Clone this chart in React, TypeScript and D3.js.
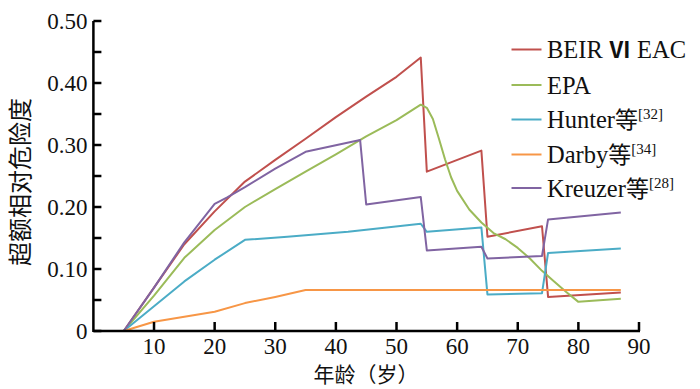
import React from "react";
import * as d3 from "d3";

const xTicks = [10, 20, 30, 40, 50, 60, 70, 80, 90];
const yTicks = [0, 0.1, 0.2, 0.3, 0.4, 0.5];
const yTickLabels = ["0", "0.10", "0.20", "0.30", "0.40", "0.50"];
const yMinorTicks = [0.05, 0.15, 0.25, 0.35, 0.45];

const beir: [number, number][] = [
  [5, 0], [10, 0.07], [15, 0.14], [20, 0.193], [25, 0.241], [30, 0.276], [35, 0.31],
  [40, 0.345], [45, 0.378], [50, 0.41], [54, 0.441], [55, 0.257], [64, 0.291],
  [65, 0.152], [74, 0.169], [75, 0.055], [87, 0.062],
];
const epa: [number, number][] = [
  [5, 0], [10, 0.057], [15, 0.118], [20, 0.163], [25, 0.2], [30, 0.229], [35, 0.257],
  [40, 0.285], [45, 0.314], [50, 0.34], [54, 0.365], [55, 0.36], [56, 0.342],
  [57, 0.31], [58, 0.277], [59, 0.248], [60, 0.226], [62, 0.196], [64, 0.175],
  [66, 0.158], [68, 0.148], [70, 0.134], [72, 0.117], [74, 0.097], [76, 0.08],
  [78, 0.063], [80, 0.047], [87, 0.052],
];
const hunter: [number, number][] = [
  [5, 0], [10, 0.04], [15, 0.08], [20, 0.115], [25, 0.147], [32, 0.152], [42, 0.16],
  [54, 0.173], [55, 0.16], [64, 0.167], [65, 0.059], [74, 0.061], [75, 0.126], [87, 0.133],
];
const darby: [number, number][] = [
  [5, 0], [10, 0.015], [20, 0.031], [25, 0.045], [30, 0.055], [35, 0.066], [87, 0.066],
];
const kreuzer: [number, number][] = [
  [5, 0], [10, 0.07], [15, 0.143], [20, 0.205], [22, 0.215], [25, 0.232], [30, 0.262],
  [35, 0.289], [44, 0.308], [45, 0.204], [54, 0.216], [55, 0.13], [64, 0.136],
  [65, 0.117], [74, 0.121], [75, 0.18], [87, 0.191],
];

const seriesNames = ["BEIR", "EPA", "Hunter", "Darby", "Kreuzer"];
const seriesData = [beir, epa, hunter, darby, kreuzer];
const seriesColors = ["#c0504d", "#9bbb59", "#4bacc6", "#f79646", "#8064a2"];
const legendSup = ["", "", "[32]", "[34]", "[28]"];

const serif = "Liberation Serif, Times New Roman, Times, DejaVu Serif, serif";
const cjk = "Noto Sans CJK SC, sans-serif";

export default function App() {
  const width = 700;
  const height = 389;
  const x = d3.scaleLinear().domain([0, 90]).range([93.4, 639]);
  const y = d3.scaleLinear().domain([0, 0.5]).range([331, 21]);
  const line = d3
    .line<[number, number]>()
    .x((d) => x(d[0]))
    .y((d) => y(d[1]));

  const legendY = [49.5, 85, 119.5, 154.5, 188];
  const serifStyle = { fontFamily: serif };
  const cjkStyle = { fontFamily: cjk };

  const legendLabel = (i: number) => {
    if (i === 0)
      return (
        <>
          <tspan>BEIR </tspan>
          <tspan style={cjkStyle} fontSize={22} fontWeight="bold">Ⅵ</tspan>
          <tspan> EAC</tspan>
        </>
      );
    if (i === 1) return <tspan>EPA</tspan>;
    return (
      <>
        <tspan>{seriesNames[i]}</tspan>
        <tspan style={cjkStyle} fontSize={23}>等</tspan>
        <tspan fontSize={15} dy={-9}>{legendSup[i]}</tspan>
      </>
    );
  };

  return (
    <svg
      width={width}
      height={height}
      style={{ position: "absolute", left: 0, top: 0, background: "#fff" }}
    >
      <rect width={width} height={height} fill="#fff" />
      {seriesData.map((d, i) => (
        <path
          key={seriesNames[i]}
          d={line(d) || ""}
          fill="none"
          stroke={seriesColors[i]}
          strokeWidth={2}
          strokeLinejoin="round"
        />
      ))}
      <g stroke="#000" strokeWidth={2.5} fill="none">
        <line x1={x(0)} x2={x(90) + 1} y1={y(0)} y2={y(0)} />
        <line x1={x(0)} x2={x(0)} y1={y(0) + 1} y2={y(0.5)} />
        {xTicks.map((t) => (
          <line key={"xt" + t} x1={x(t)} x2={x(t)} y1={y(0)} y2={y(0) - 9} />
        ))}
        {yTicks.concat(yMinorTicks).map((t) => (
          <line key={"yt" + t} x1={x(0)} x2={x(0) + 8} y1={y(t)} y2={y(t)} />
        ))}
      </g>
      {xTicks.map((t) => (
        <text
          key={"xl" + t}
          x={x(t)}
          y={354}
          textAnchor="middle"
          style={serifStyle}
          fontSize={23}
          fill="#111"
        >
          {t}
        </text>
      ))}
      {yTicks.map((t, i) => (
        <text
          key={"yl" + t}
          x={87.5}
          y={y(t)}
          dy="0.34em"
          textAnchor="end"
          style={serifStyle}
          fontSize={23}
          fill="#111"
        >
          {yTickLabels[i]}
        </text>
      ))}
      <text
        x={366}
        y={382}
        textAnchor="middle"
        style={cjkStyle}
        fontSize={21}
        fill="#111"
      >
        年龄（岁）
      </text>
      <text
        transform="translate(29,182) rotate(-90)"
        textAnchor="middle"
        style={cjkStyle}
        fontSize={24}
        fill="#111"
      >
        超额相对危险度
      </text>
      {seriesNames.map((n, i) => (
        <g key={"lg" + n}>
          <line
            x1={511.5}
            x2={541.5}
            y1={legendY[i]}
            y2={legendY[i]}
            stroke={seriesColors[i]}
            strokeWidth={2}
          />
          <text
            x={547}
            y={legendY[i]}
            dy="0.35em"
            style={serifStyle}
            fontSize={24.5}
            fill="#111"
          >
            {legendLabel(i)}
          </text>
        </g>
      ))}
    </svg>
  );
}
